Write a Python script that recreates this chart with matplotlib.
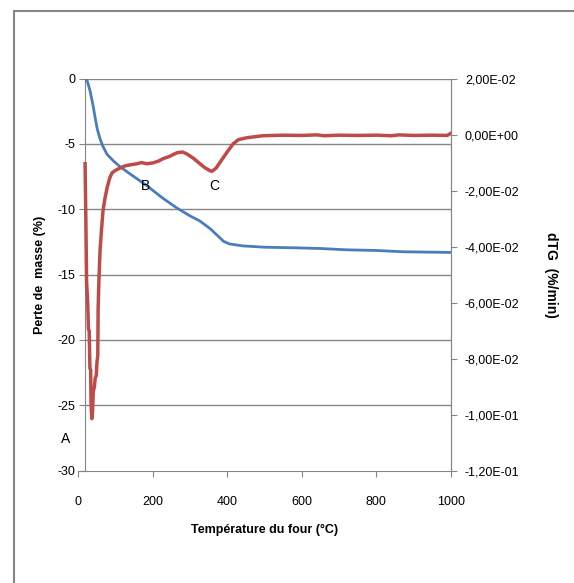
import matplotlib.pyplot as plt
import matplotlib.patches as patches
from matplotlib.ticker import FuncFormatter

plt.rcParams['axes.unicode_minus'] = False
plt.rcParams['font.family'] = ['Liberation Sans', 'DejaVu Sans']

# Perte de masse (TG) - axe de gauche
temp_tg = [20, 25, 32, 40, 46, 52, 59, 67, 78, 95, 113, 150, 185, 225, 265,
           300, 327, 355, 381, 390, 406, 442, 500, 586, 650, 720, 800, 871,
           950, 1000]
masse = [0, -0.2, -0.9, -2.0, -3.0, -3.9, -4.6, -5.2, -5.8, -6.3, -6.75,
         -7.5, -8.2, -9.1, -9.9, -10.5, -10.9, -11.5, -12.2, -12.45, -12.65,
         -12.8, -12.9, -12.95, -13.0, -13.1, -13.15, -13.25, -13.28, -13.3]

# dTG - axe de droite
temp_dtg = [19, 21, 23, 26, 28, 30, 32, 34, 35, 37, 39, 41, 44, 46, 49, 51,
            53, 54, 56, 59, 63, 67, 72, 78, 85, 91, 100, 113, 125, 140, 158,
            170, 185, 201, 215, 228, 245, 265, 280, 292, 310, 327, 340, 354,
            359, 370, 389, 402, 416, 430, 453, 496, 550, 600, 640, 660, 700,
            750, 800, 840, 860, 900, 950, 990, 1000]
dtg = [-0.0104, -0.0300, -0.0523, -0.0600, -0.0695, -0.0700, -0.0835,
       -0.0840, -0.0964, -0.1014, -0.0990, -0.0917, -0.0900, -0.0870,
       -0.0860, -0.0810, -0.0790, -0.0620, -0.0523, -0.0416, -0.0340,
       -0.0273, -0.0230, -0.0190, -0.0155, -0.0137, -0.0128, -0.0119,
       -0.0112, -0.0108, -0.0104, -0.0100, -0.0104, -0.0101, -0.0095,
       -0.0086, -0.0078, -0.0065, -0.0062, -0.0069, -0.0085, -0.0104,
       -0.0118, -0.0129, -0.0131, -0.0120, -0.0083, -0.0058, -0.0033,
       -0.0018, -0.0011, -0.0004, -0.0002, -0.0003, -0.0001, -0.0004,
       -0.0002, -0.0003, -0.0002, -0.0004, -0.0001, -0.0003, -0.0002,
       -0.0003, 0.0005]

left_ticks = [0, -5, -10, -15, -20, -25, -30]
right_ticks = [0.02, 0.0, -0.02, -0.04, -0.06, -0.08, -0.10, -0.12]
x_ticks = [0, 200, 400, 600, 800, 1000]

gris = '#868686'
bleu = '#4a7ebb'
rouge = '#be4b48'

fig = plt.figure(figsize=(5.74, 5.83), dpi=100)
ax = fig.add_axes([78/574, 1 - 470.7/583, 373/574, 392.1/583])

# cadre autour du graphique
fig.patches.append(patches.Rectangle((14/574, -0.1), 1.2, 1 - 11/583 + 0.1,
                                     transform=fig.transFigure, fill=False,
                                     edgecolor=gris, lw=1.5))

ax.set_xlim(0, 1000)
ax.set_ylim(-30, 0)
ax.hlines(left_ticks[:-1], 20, 1000, color=gris, lw=1, zorder=0)
ax.plot(temp_tg, masse, color=bleu, lw=2, zorder=3)

ax.spines['top'].set_visible(False)
ax.spines['right'].set_color(gris)
ax.spines['bottom'].set_color(gris)
ax.spines['left'].set_color(gris)
ax.spines['left'].set_position(('data', 20))
ax.set_yticks(left_ticks)
ax.set_xticks(x_ticks)
ax.tick_params(axis='both', colors=gris, labelcolor='black', labelsize=9,
               length=4, direction='out')
ax.tick_params(axis='x', pad=14)
ax.set_xlabel('Température du four (°C)', fontsize=9, fontweight='bold',
              labelpad=12)
ax.set_ylabel('Perte de  masse (%)', fontsize=9, fontweight='bold',
              labelpad=8)

ax2 = ax.twinx()
ax2.set_ylim(-0.12, 0.02)
ax2.plot(temp_dtg, dtg, color=rouge, lw=2.5, zorder=3)
ax2.set_yticks(right_ticks)
ax2.yaxis.set_major_formatter(FuncFormatter(
    lambda v, p: f'{v:.2E}'.replace('.', ',').replace('-0,00', '0,00')))
for s in ['top', 'left', 'bottom']:
    ax2.spines[s].set_visible(False)
ax2.spines['right'].set_color(gris)
ax2.tick_params(axis='y', colors=gris, labelcolor='black', labelsize=9,
                length=4, direction='out', pad=6)
ax2.set_ylabel('dTG  (%/min)', fontsize=10, fontweight='bold', rotation=270,
               labelpad=28)

ax.text(-32, -27.6, 'A', fontsize=10, ha='center', va='center', clip_on=False)
ax.text(180, -8.2, 'B', fontsize=10, ha='center', va='center', zorder=5)
ax.text(365, -8.2, 'C', fontsize=10, ha='center', va='center', zorder=5)

fig.savefig('out.png', dpi=100)
